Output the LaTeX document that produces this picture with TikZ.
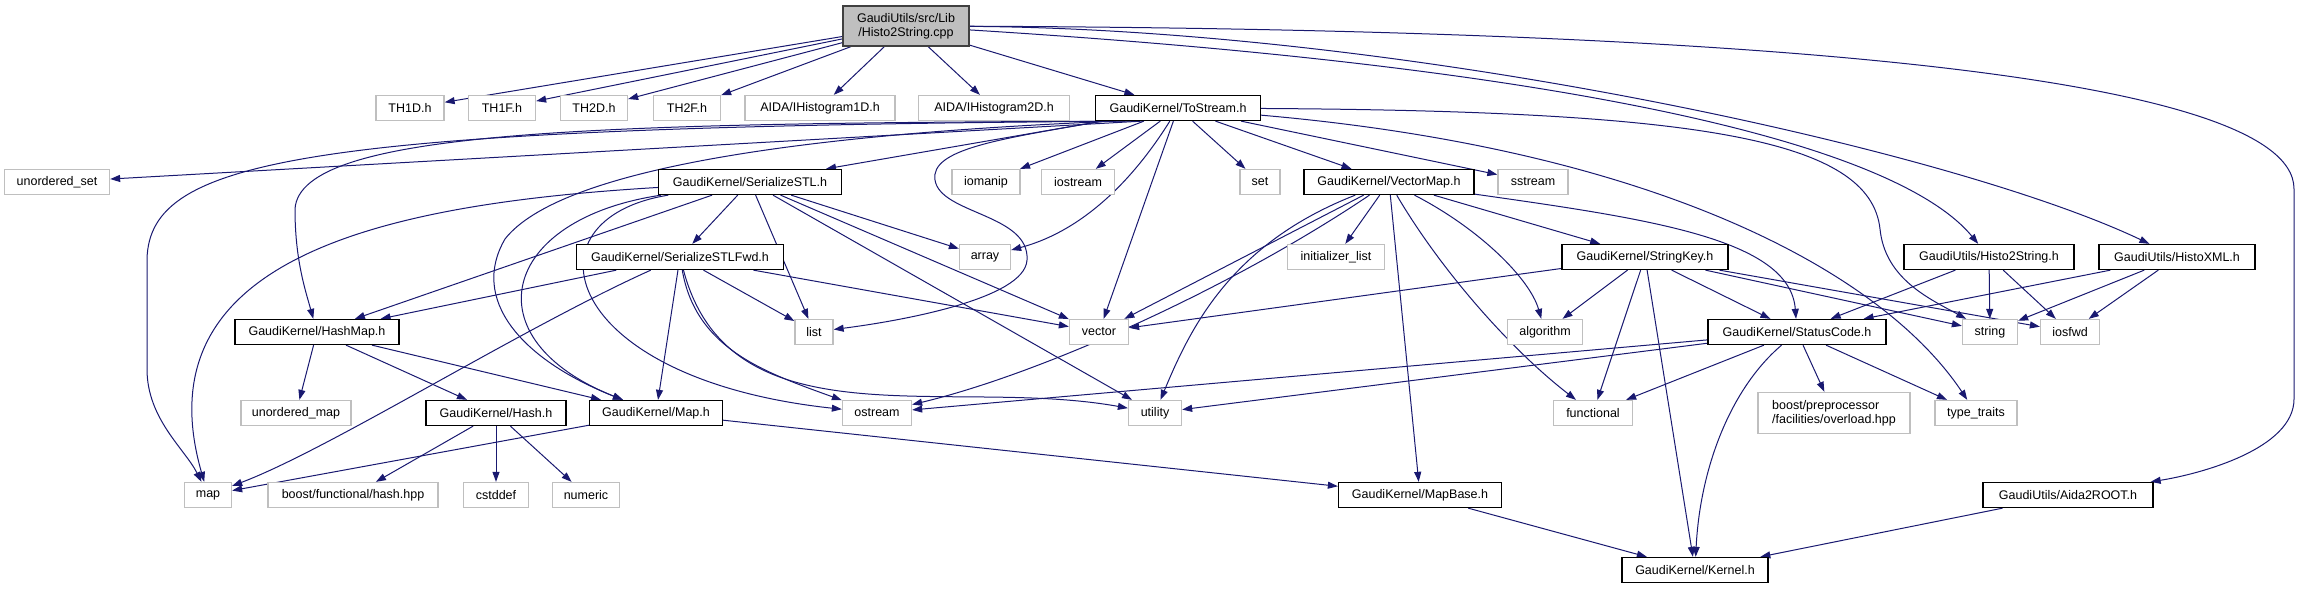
\documentclass[tikz,border=0pt]{standalone}
\usepackage{fontspec}
\setmainfont{Liberation Sans}
\usetikzlibrary{arrows.meta}

\definecolor{linkblue}{RGB}{25,25,112}
\definecolor{extgray}{RGB}{191,191,191}

\pgfdeclarelayer{links}
\pgfsetlayers{links,main}

\tikzset{
  intern/.style={draw=black,line width=1.3pt,fill=white,minimum height=25pt,inner sep=0pt},
  extern/.style={draw=extgray,line width=1.3pt,fill=white,minimum height=25pt,inner sep=0pt},
  current/.style={draw=black!75,line width=1.3pt,fill=extgray,minimum height=40pt,inner sep=0pt,align=center},
  link/.style={->,draw=linkblue,line width=1pt}
}

\begin{document}
\begin{tikzpicture}[x=1pt,y=1pt,>={Triangle[length=10pt,width=7pt]},
  every edge/.style={draw=linkblue,line width=1pt},
  font=\fontsize{12.5}{14}\selectfont]
\useasboundingbox (0,0) rectangle (2299,589);
% define the headers
  \node[current,minimum width=126pt] (cpp) at (906,563) {GaudiUtils/src/Lib\\/Histo2String.cpp};

  \node[extern,minimum width=68pt]  (th1d)   at (410,481)  {TH1D.h};
  \node[extern,minimum width=67pt]  (th1f)   at (502,481)  {TH1F.h};
  \node[extern,minimum width=67pt]  (th2d)   at (594,481)  {TH2D.h};
  \node[extern,minimum width=67pt]  (th2f)   at (687,481)  {TH2F.h};
  \node[extern,minimum width=150pt] (aida1d) at (820,481)  {AIDA/IHistogram1D.h};
  \node[extern,minimum width=151pt] (aida2d) at (994,481)  {AIDA/IHistogram2D.h};
  \node[intern,minimum width=165pt] (tostream) at (1178,481) {GaudiKernel/ToStream.h};

  \node[extern,minimum width=105pt] (uset)      at (57,407)   {unordered\_set};
  \node[intern,minimum width=183pt] (serstl)    at (750,407)  {GaudiKernel/SerializeSTL.h};
  \node[extern,minimum width=68pt]  (iomanip)   at (986,407)  {iomanip};
  \node[extern,minimum width=73pt]  (iostream)  at (1078,407) {iostream};
  \node[extern,minimum width=40pt]  (set)       at (1260,407) {set};
  \node[intern,minimum width=170pt] (vectormap) at (1389,407) {GaudiKernel/VectorMap.h};
  \node[extern,minimum width=70pt]  (sstream)   at (1533,407) {sstream};

  \node[intern,minimum width=207pt] (serfwd)    at (680,332)  {GaudiKernel/SerializeSTLFwd.h};
  \node[extern,minimum width=51pt]  (array)     at (985,332)  {array};
  \node[extern,minimum width=97pt]  (initlist)  at (1336,332) {initializer\_list};
  \node[intern,minimum width=166pt] (stringkey) at (1645,332) {GaudiKernel/StringKey.h};
  \node[intern,minimum width=170pt] (histostr)  at (1989,332) {GaudiUtils/Histo2String.h};
  \node[intern,minimum width=156pt] (histoxml)  at (2177,332) {GaudiUtils/HistoXML.h};

  \node[intern,minimum width=164pt] (hashmap)   at (317,257)  {GaudiKernel/HashMap.h};
  \node[extern,minimum width=38pt]  (list)      at (814,257)  {list};
  \node[extern,minimum width=59pt]  (vector)    at (1099,257) {vector};
  \node[extern,minimum width=75pt]  (algorithm) at (1545,257) {algorithm};
  \node[intern,minimum width=178pt] (statcode)  at (1797,257) {GaudiKernel/StatusCode.h};
  \node[extern,minimum width=55pt]  (string)    at (1990,257) {string};
  \node[extern,minimum width=59pt]  (iosfwd)    at (2070,257) {iosfwd};

  \node[extern,minimum width=110pt] (umap)      at (296,176)  {unordered\_map};
  \node[intern,minimum width=140pt] (hash)      at (496,176)  {GaudiKernel/Hash.h};
  \node[intern,minimum width=133pt] (maph)      at (656,176)  {GaudiKernel/Map.h};
  \node[extern,minimum width=69pt]  (ostream)   at (877,176)  {ostream};
  \node[extern,minimum width=53pt]  (utility)   at (1155,176) {utility};
  \node[extern,minimum width=79pt]  (functional) at (1593,176) {functional};
  \node[extern,minimum width=152pt,minimum height=41pt,align=left] (overload) at (1834,176)
       {boost/preprocessor\\/facilities/overload.hpp};
  \node[extern,minimum width=82pt]  (typetraits) at (1976,176) {type\_traits};

  \node[extern,minimum width=47pt]  (map)       at (208,94)   {map};
  \node[extern,minimum width=170pt] (boosthash) at (353,94)   {boost/functional/hash.hpp};
  \node[extern,minimum width=65pt]  (cstddef)   at (496,94)   {cstddef};
  \node[extern,minimum width=67pt]  (numeric)   at (586,94)   {numeric};
  \node[intern,minimum width=163pt] (mapbase)   at (1420,94)  {GaudiKernel/MapBase.h};
  \node[intern,minimum width=170pt] (aidaroot)  at (2068,94)  {GaudiUtils/Aida2ROOT.h};

  \node[intern,minimum width=146pt] (kernel)    at (1695,19)  {GaudiKernel/Kernel.h};

% define the links
\begin{pgfonlayer}{links}
  \path[->] (cpp) edge (th1d)
              edge (th1f)
              edge (th2d)
              edge (th2f)
              edge (aida1d)
              edge (aida2d)
              edge (tostream);
  \draw[link] (cpp) .. controls (1600,520) and (1900,440) .. (histostr);
  \draw[link] (cpp) .. controls (1400,560) and (1950,440) .. (histoxml);
  \draw[link] (cpp) .. controls (1700,560) and (2294,520) .. (2294,400)
              -- (2294,190) .. controls (2294,140) and (2200,115) .. (aidaroot);

  \path[->] (tostream) edge (serstl)
              edge (iomanip)
              edge (iostream)
              edge (set)
              edge (vectormap)
              edge (sstream)
              edge (vector);
  \draw[link] (tostream.200) -- (uset);
  \draw[link] (tostream.196) .. controls (600,466) and (300,460) .. (295,380)
              .. controls (295,330) and (305,300) .. (hashmap);
  \draw[link] (tostream.194) .. controls (300,462) and (150,430) .. (147,330)
              -- (147,220) .. controls (147,170) and (185,140) .. (map);
  \draw[link] (tostream.192) .. controls (800,455) and (560,420) .. (505,350)
              .. controls (470,290) and (520,230) .. (maph);
  \draw[link] (tostream) .. controls (1000,450) and (930,440) .. (935,409)
              .. controls (940,375) and (1030,375) .. (1027,329)
              .. controls (1025,290) and (900,268) .. (list);
  \draw[link] (tostream) .. controls (1140,420) and (1090,360) .. (array);
  \draw[link] (tostream) .. controls (1700,478) and (1870,450) .. (1880,360)
              .. controls (1885,310) and (1930,290) .. (string);
  \draw[link] (tostream) .. controls (1650,440) and (1880,320) .. (typetraits);

  \path[->] (serstl) edge (serfwd)
              edge (hashmap)
              edge (list)
              edge (array)
              edge (vector)
              edge (utility);
  \draw[link] (serstl) .. controls (500,370) and (470,250) .. (maph);
  \draw[link] (serstl) .. controls (380,385) and (140,330) .. (map);
  \draw[link] (serstl) .. controls (520,370) and (560,210) .. (ostream);

  \path[->] (serfwd) edge (hashmap)
              edge (maph)
              edge (list)
              edge (vector);
  \draw[link] (serfwd) .. controls (520,260) and (330,140) .. (map);
  \draw[link] (serfwd) .. controls (696,239) and (767,216) .. (ostream);
  \draw[link] (serfwd) .. controls (730,143) and (949,213) .. (utility);

  \path[->] (hashmap) edge (umap)
              edge (hash)
              edge (maph);
  \path[->] (hash) edge (boosthash)
              edge (cstddef)
              edge (numeric);
  \path[->] (maph) edge (map)
              edge (mapbase);
  \path[->] (mapbase) edge (kernel);

  \path[->] (vectormap) edge (initlist)
              edge (vector)
              edge (mapbase)
              edge (stringkey);
  \draw[link] (vectormap) .. controls (1230,300) and (1040,215) .. (ostream);
  \draw[link] (vectormap) .. controls (1230,345) and (1190,260) .. (utility);
  \draw[link] (vectormap) .. controls (1440,320) and (1510,240) .. (functional);
  \draw[link] (vectormap) .. controls (1480,360) and (1530,310) .. (algorithm);
  \draw[link] (vectormap) .. controls (1650,370) and (1790,350) .. (statcode);

  \path[->] (stringkey) edge (vector)
              edge (algorithm)
              edge (functional)
              edge (kernel)
              edge (statcode)
              edge (string)
              edge (iosfwd);

  \path[->] (statcode) edge (ostream)
              edge (utility)
              edge (functional)
              edge (overload)
              edge (typetraits);
  \draw[link] (statcode) .. controls (1730,200) and (1700,120) .. (kernel);

  \path[->] (histostr) edge (statcode)
              edge (string)
              edge (iosfwd);
  \path[->] (histoxml) edge (statcode)
              edge (string)
              edge (iosfwd);
  \path[->] (aidaroot) edge (kernel);
\end{pgfonlayer}
\end{tikzpicture}
\end{document}
